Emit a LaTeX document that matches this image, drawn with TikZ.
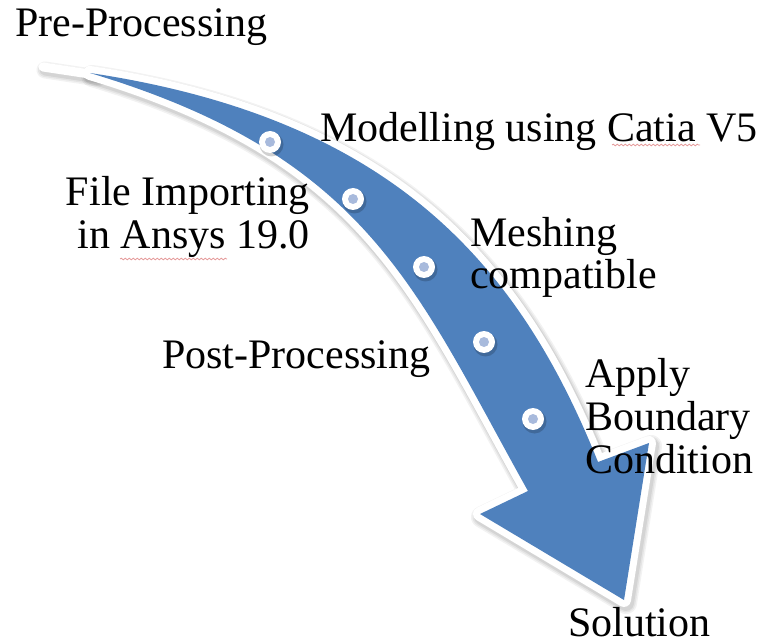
\documentclass[tikz,border=0pt]{standalone}
\usepackage{fontspec}
\setmainfont{Liberation Serif}
\usetikzlibrary{decorations.pathmorphing}
\definecolor{arrowblue}{HTML}{4F81BD}
\definecolor{dotblue}{HTML}{A8BADC}
\definecolor{spellred}{HTML}{E59A9A}

% Outline of the curved process arrow (y axis points down)
\def\arrowpath{(90,73) .. controls (370,157) and (416,291) .. (528,491)
  -- (480,514) -- (624,600) -- (649,443) -- (598,462)
  .. controls (518,262) and (390,118) .. (90,73) -- cycle}
% thin rim that runs on past the tip of the tail
\def\tailpath{(96,75) -- (43,67)}

\begin{document}
\begin{tikzpicture}[x=1pt,y=-1pt,
  txt/.style={inner sep=0pt, font=\fontsize{42}{43}\selectfont},
  stepdot/.style={circle, fill=white, minimum size=22pt, inner sep=0pt,
    path picture={\fill[dotblue] (path picture bounding box.center) circle[radius=5pt];}},
  dotshadow/.style={circle, fill=black, opacity=0.18, minimum size=24pt, inner sep=0pt},
  spell/.style={spellred, line width=0.8pt, decorate,
    decoration={snake, amplitude=0.8pt, segment length=4pt}}]
\useasboundingbox (0,0) rectangle (768,644);

% soft shadow of the arrow
\foreach \w/\o in {22/0.05, 19/0.06, 16/0.07} {
  \draw[black, opacity=\o, line width=\w pt, line join=round, shift={(2,3)}] \arrowpath;
  \draw[black, opacity=\o, line width=\w pt - 5pt, line cap=round, shift={(2,3)}] \tailpath;
}
% white rim, tapering tail and blue body
\draw[white, line width=14pt, line join=round] \arrowpath;
\draw[white, line width=9pt, line cap=round] \tailpath;
\fill[arrowblue] \arrowpath;

% stage markers on the arrow
\foreach \n/\px/\py in {d1/270/142, d2/353/199, d3/424/267, d4/484/342, d5/533/419} {
  \node[dotshadow] at (\px+1.5,\py+2.5) {};
  \node[stepdot] (\n) at (\px,\py) {};
}

% stage labels (multi-line labels are placed by their last baseline)
\node[txt, anchor=base west] (pre) at (15,37) {Pre-Processing};
\node[txt, anchor=base west] (model) at (320,142) {Modelling using Catia V5};
\node[txt, align=right, anchor=base east] (import) at (310,249) {File Importing\\in Ansys 19.0};
\node[txt, align=left, anchor=base west] (mesh) at (470,289) {Meshing\\compatible};
\node[txt, anchor=base west] (post) at (162,368) {Post-Processing};
\node[txt, align=left, anchor=base west] (bc) at (585,473) {Apply\\Boundary\\Condition};
\node[txt, anchor=base west] (sol) at (568,636) {Solution};

% spell-check underlines
\draw[spell] (612,145) -- (700,145);
\draw[spell] (120,259) -- (227,259);
\end{tikzpicture}
\end{document}
